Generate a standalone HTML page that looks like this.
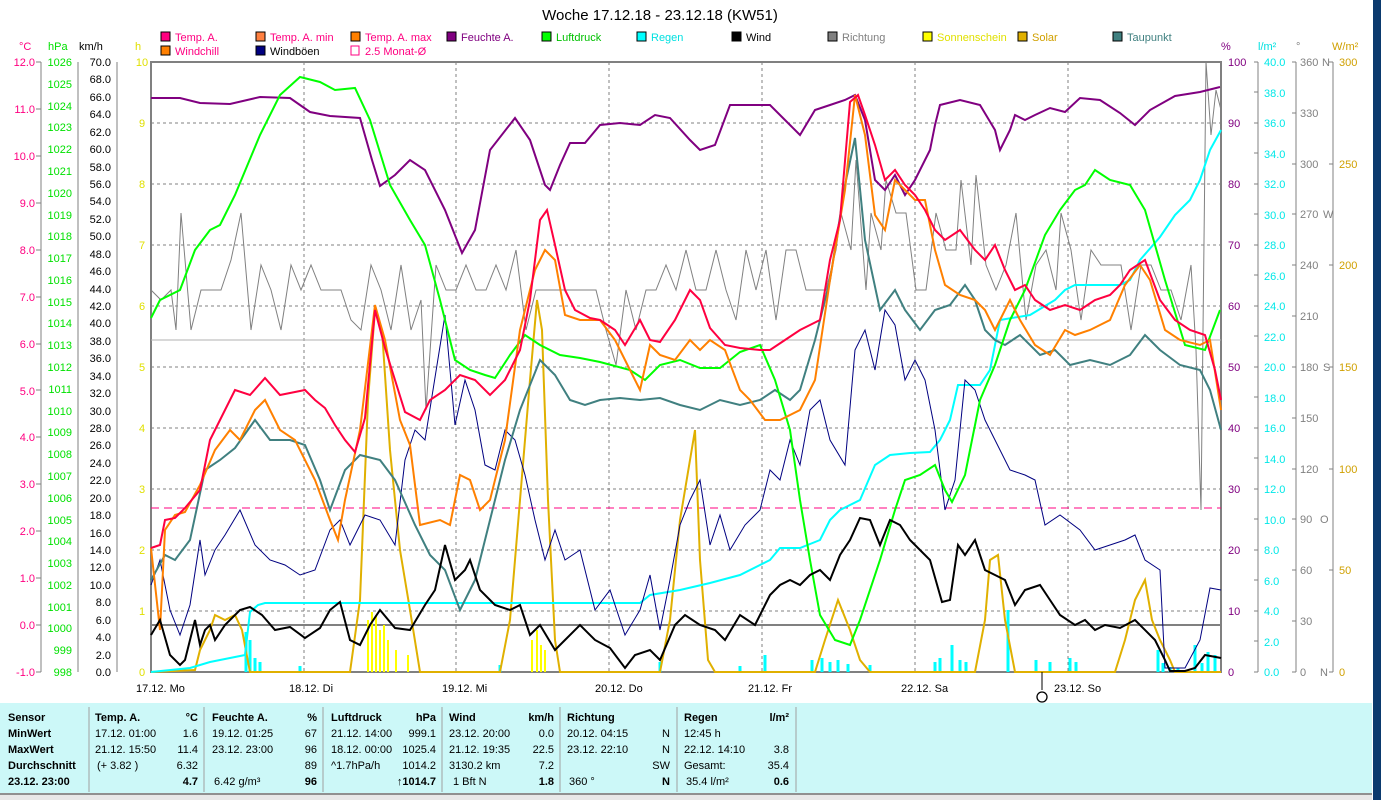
<!DOCTYPE html>
<html><head><meta charset="utf-8"><style>
html,body{margin:0;padding:0;width:1381px;height:800px;overflow:hidden;background:#fff;}
svg{display:block;font-family:"Liberation Sans",sans-serif;}
</style></head><body>
<svg width="1381" height="800" viewBox="0 0 1381 800" xmlns="http://www.w3.org/2000/svg">
<rect x="1373" y="0" width="8" height="800" fill="#0b3a6e"/>
<text x="660" y="20" font-size="15" text-anchor="middle" fill="#000">Woche 17.12.18 - 23.12.18 (KW51)</text>
<g font-size="11">
<rect x="161" y="32" width="9" height="9" fill="#ff0080" stroke="#000"/><text x="175" y="41" fill="#ff0080">Temp. A.</text>
<rect x="256" y="32" width="9" height="9" fill="#ff8040" stroke="#000"/><text x="270" y="41" fill="#ff0080">Temp. A. min</text>
<rect x="351" y="32" width="9" height="9" fill="#ff8000" stroke="#000"/><text x="365" y="41" fill="#ff0080">Temp. A. max</text>
<rect x="447" y="32" width="9" height="9" fill="#800080" stroke="#000"/><text x="461" y="41" fill="#800080">Feuchte A.</text>
<rect x="542" y="32" width="9" height="9" fill="#00ff00" stroke="#000"/><text x="556" y="41" fill="#00c000">Luftdruck</text>
<rect x="637" y="32" width="9" height="9" fill="#00ffff" stroke="#000"/><text x="651" y="41" fill="#00e0e0">Regen</text>
<rect x="732" y="32" width="9" height="9" fill="#000" stroke="#000"/><text x="746" y="41" fill="#000">Wind</text>
<rect x="828" y="32" width="9" height="9" fill="#808080" stroke="#000"/><text x="842" y="41" fill="#808080">Richtung</text>
<rect x="923" y="32" width="9" height="9" fill="#ffff00" stroke="#000"/><text x="937" y="41" fill="#e0e000">Sonnenschein</text>
<rect x="1018" y="32" width="9" height="9" fill="#e0b000" stroke="#000"/><text x="1032" y="41" fill="#d0a000">Solar</text>
<rect x="1113" y="32" width="9" height="9" fill="#408080" stroke="#000"/><text x="1127" y="41" fill="#408080">Taupunkt</text>
<rect x="161" y="46" width="9" height="9" fill="#ff8000" stroke="#000"/><text x="175" y="55" fill="#ff0080">Windchill</text>
<rect x="256" y="46" width="9" height="9" fill="#000080" stroke="#000"/><text x="270" y="55" fill="#000">Windböen</text>
<rect x="351" y="46" width="8" height="9" fill="#fff" stroke="#ff0080"/><text x="365" y="55" fill="#ff0080">2.5 Monat-Ø</text>
</g>
<g font-size="11">
<text x="19" y="50" fill="#ff0080">°C</text><text x="48" y="50" fill="#00e000">hPa</text><text x="79" y="50" fill="#000">km/h</text><text x="135" y="50" fill="#e0e000">h</text>
<text x="1221" y="50" fill="#800080">%</text><text x="1258" y="50" fill="#00e0e0">l/m²</text><text x="1296" y="50" fill="#808080">°</text><text x="1332" y="50" fill="#d0a000">W/m²</text>
</g>
<g stroke="#808080" stroke-width="1">
<line x1="41" y1="62" x2="41" y2="672"/><line x1="78" y1="62" x2="78" y2="672"/><line x1="117" y1="62" x2="117" y2="672"/>
<line x1="1258" y1="62" x2="1258" y2="672"/><line x1="1296" y1="62" x2="1296" y2="672"/><line x1="1333" y1="62" x2="1333" y2="672"/>
</g>
<g font-size="11" fill="#ff0080" text-anchor="end">
<text x="35" y="676">-1.0</text><text x="35" y="629">0.0</text><text x="35" y="582">1.0</text><text x="35" y="535">2.0</text><text x="35" y="488">3.0</text><text x="35" y="441">4.0</text><text x="35" y="395">5.0</text><text x="35" y="348">6.0</text><text x="35" y="301">7.0</text><text x="35" y="254">8.0</text><text x="35" y="207">9.0</text><text x="35" y="160">10.0</text><text x="35" y="113">11.0</text><text x="35" y="66">12.0</text>
</g>
<path d="M36 672h5M36 625h5M36 578h5M36 531h5M36 484h5M36 437h5M36 390h5M36 344h5M36 297h5M36 250h5M36 203h5M36 156h5M36 109h5M36 62h5" stroke="#808080"/>
<g font-size="11" fill="#00e000" text-anchor="end">
<text x="72" y="676">998</text><text x="72" y="654">999</text><text x="72" y="632">1000</text><text x="72" y="611">1001</text><text x="72" y="589">1002</text><text x="72" y="567">1003</text><text x="72" y="545">1004</text><text x="72" y="524">1005</text><text x="72" y="502">1006</text><text x="72" y="480">1007</text><text x="72" y="458">1008</text><text x="72" y="436">1009</text><text x="72" y="415">1010</text><text x="72" y="393">1011</text><text x="72" y="371">1012</text><text x="72" y="349">1013</text><text x="72" y="327">1014</text><text x="72" y="306">1015</text><text x="72" y="284">1016</text><text x="72" y="262">1017</text><text x="72" y="240">1018</text><text x="72" y="219">1019</text><text x="72" y="197">1020</text><text x="72" y="175">1021</text><text x="72" y="153">1022</text><text x="72" y="131">1023</text><text x="72" y="110">1024</text><text x="72" y="88">1025</text><text x="72" y="66">1026</text>
</g>
<g font-size="11" fill="#000" text-anchor="end">
<text x="111" y="676">0.0</text><text x="111" y="659">2.0</text><text x="111" y="641">4.0</text><text x="111" y="624">6.0</text><text x="111" y="606">8.0</text><text x="111" y="589">10.0</text><text x="111" y="571">12.0</text><text x="111" y="554">14.0</text><text x="111" y="537">16.0</text><text x="111" y="519">18.0</text><text x="111" y="502">20.0</text><text x="111" y="484">22.0</text><text x="111" y="467">24.0</text><text x="111" y="449">26.0</text><text x="111" y="432">28.0</text><text x="111" y="415">30.0</text><text x="111" y="397">32.0</text><text x="111" y="380">34.0</text><text x="111" y="362">36.0</text><text x="111" y="345">38.0</text><text x="111" y="327">40.0</text><text x="111" y="310">42.0</text><text x="111" y="293">44.0</text><text x="111" y="275">46.0</text><text x="111" y="258">48.0</text><text x="111" y="240">50.0</text><text x="111" y="223">52.0</text><text x="111" y="205">54.0</text><text x="111" y="188">56.0</text><text x="111" y="171">58.0</text><text x="111" y="153">60.0</text><text x="111" y="136">62.0</text><text x="111" y="118">64.0</text><text x="111" y="101">66.0</text><text x="111" y="83">68.0</text><text x="111" y="66">70.0</text>
</g>
<g font-size="11" fill="#e0e000" text-anchor="middle">
<text x="142" y="676">0</text><text x="142" y="615">1</text><text x="142" y="554">2</text><text x="142" y="493">3</text><text x="142" y="432">4</text><text x="142" y="371">5</text><text x="142" y="310">6</text><text x="142" y="249">7</text><text x="142" y="188">8</text><text x="142" y="127">9</text><text x="142" y="66">10</text>
</g>
<g font-size="11" fill="#800080">
<text x="1228" y="676">0</text><text x="1228" y="615">10</text><text x="1228" y="554">20</text><text x="1228" y="493">30</text><text x="1228" y="432">40</text><text x="1228" y="371">50</text><text x="1228" y="310">60</text><text x="1228" y="249">70</text><text x="1228" y="188">80</text><text x="1228" y="127">90</text><text x="1228" y="66">100</text>
</g>
<g font-size="11" fill="#00e8e8">
<text x="1264" y="676">0.0</text><text x="1264" y="646">2.0</text><text x="1264" y="615">4.0</text><text x="1264" y="585">6.0</text><text x="1264" y="554">8.0</text><text x="1264" y="524">10.0</text><text x="1264" y="493">12.0</text><text x="1264" y="463">14.0</text><text x="1264" y="432">16.0</text><text x="1264" y="402">18.0</text><text x="1264" y="371">20.0</text><text x="1264" y="341">22.0</text><text x="1264" y="310">24.0</text><text x="1264" y="280">26.0</text><text x="1264" y="249">28.0</text><text x="1264" y="219">30.0</text><text x="1264" y="188">32.0</text><text x="1264" y="158">34.0</text><text x="1264" y="127">36.0</text><text x="1264" y="97">38.0</text><text x="1264" y="66">40.0</text>
</g>
<path d="M1254 672h4M1254 641h4M1254 611h4M1254 580h4M1254 550h4M1254 519h4M1254 489h4M1254 458h4M1254 428h4M1254 397h4M1254 367h4M1254 336h4M1254 306h4M1254 275h4M1254 245h4M1254 214h4M1254 184h4M1254 153h4M1254 123h4M1254 92h4M1254 62h4 M1292 672h4M1292 621h4M1292 570h4M1292 519h4M1292 469h4M1292 418h4M1292 367h4M1292 316h4M1292 265h4M1292 214h4M1292 164h4M1292 113h4M1292 62h4 M1329 672h4M1329 570h4M1329 469h4M1329 367h4M1329 265h4M1329 164h4M1329 62h4" stroke="#808080"/>
<g font-size="11" fill="#808080">
<text x="1300" y="676">0</text><text x="1320" y="676">N</text><text x="1300" y="625">30</text><text x="1300" y="574">60</text><text x="1300" y="523">90</text><text x="1320" y="523">O</text><text x="1300" y="473">120</text><text x="1300" y="422">150</text><text x="1300" y="371">180</text><text x="1323" y="371">S</text><text x="1300" y="320">210</text><text x="1300" y="269">240</text><text x="1300" y="218">270</text><text x="1323" y="218">W</text><text x="1300" y="168">300</text><text x="1300" y="117">330</text><text x="1300" y="66">360</text><text x="1322" y="66">N</text>
</g>
<g font-size="11" fill="#d0a000">
<text x="1339" y="676">0</text><text x="1339" y="574">50</text><text x="1339" y="473">100</text><text x="1339" y="371">150</text><text x="1339" y="269">200</text><text x="1339" y="168">250</text><text x="1339" y="66">300</text>
</g>
<g stroke="#808080" stroke-dasharray="3,3" stroke-width="1">
<path d="M151 123H1221M151 184H1221M151 245H1221M151 306H1221M151 367H1221M151 428H1221M151 489H1221M151 550H1221M151 611H1221"/>
<path d="M304 62V672M456 62V672M609 62V672M762 62V672M915 62V672M1068 62V672"/>
</g>
<rect x="151" y="62" width="1070" height="610" fill="none" stroke="#808080" stroke-width="2"/>
<line x1="151" y1="625" x2="1221" y2="625" stroke="#808080" stroke-width="2"/>
<line x1="151" y1="340" x2="1221" y2="340" stroke="#b0b0b0" stroke-width="1"/>
<line x1="151" y1="508" x2="1221" y2="508" stroke="#ff0080" stroke-dasharray="8,5"/>
<path d="M368 672V620M372 672V612M376 672V615M380 672V630M384 672V625M388 672V640M396 672V650M408 672V655M532 672V640M537 672V630M541 672V645M545 672V650" stroke="#ffff00" stroke-width="2"/>
<path d="M246 672V632M250 672V640M255 672V658M260 672V662M300 672V666M500 672V665M660 672V662M740 672V666M765 672V655M812 672V660M822 672V658M830 672V662M838 672V660M848 672V664M870 672V665M935 672V662M940 672V658M952 672V645M960 672V660M966 672V662M1008 672V610M1036 672V660M1050 672V662M1070 672V658M1076 672V662M1158 672V650M1163 672V663M1170 672V667M1178 672V668M1195 672V645M1202 672V663M1208 672V652M1215 672V655" stroke="#00ffff" stroke-width="3"/>
<polyline fill="none" stroke="#808080" stroke-width="1" points="151,290 161,300 171,290 176,330 181,213 191,330 201,290 211,290 221,290 231,260 241,213 251,330 261,265 271,290 281,330 291,265 301,290 311,265 321,290 331,290 341,290 351,320 361,330 371,265 381,290 391,330 401,265 411,330 421,300 426,410 436,265 446,290 456,290 466,265 476,290 486,290 496,265 506,290 516,250 526,330 536,290 546,290 556,290 566,290 576,290 586,290 596,290 606,330 616,365 626,290 636,330 646,290 656,290 666,265 676,290 686,250 696,290 706,290 716,250 726,290 736,320 746,250 756,290 766,250 776,320 786,250 796,250 806,290 816,290 826,290 836,250 841,213 851,250 856,160 866,290 871,213 881,250 886,180 896,213 906,213 916,290 926,290 936,213 946,250 956,250 961,180 971,265 976,175 986,265 996,290 1006,265 1016,213 1026,320 1036,265 1046,250 1056,290 1061,213 1071,250 1081,320 1091,250 1101,265 1111,265 1121,265 1131,330 1141,265 1151,265 1161,290 1171,290 1181,320 1191,265 1196,350 1201,510 1206,62 1211,135 1216,90 1221,110"/>
<polyline fill="none" stroke="#e0b000" stroke-width="2" points="151,672 195,670 200,650 210,630 215,615 225,620 235,615 242,630 250,672 350,672 360,600 368,400 375,310 382,330 390,450 400,550 410,610 420,672 500,672 510,620 520,500 530,380 537,300 542,330 548,500 555,640 560,672 660,672 670,620 680,520 690,460 695,430 700,560 708,660 715,672 815,672 825,640 838,600 850,630 860,660 870,672 975,672 985,620 990,560 998,555 1005,620 1015,672 1115,672 1125,640 1135,600 1145,580 1152,620 1160,640 1170,660 1175,672 1221,672"/>
<polyline fill="none" stroke="#00ffff" stroke-width="2" points="151,672 190,668 210,662 230,658 245,655 250,612 258,605 265,603 640,603 650,595 680,590 710,583 740,575 760,565 770,560 780,548 800,548 820,540 830,520 840,510 860,500 875,465 890,455 910,453 930,452 940,440 950,420 958,385 980,385 990,370 1000,320 1030,315 1055,300 1065,290 1075,285 1120,285 1130,280 1140,260 1160,237 1175,215 1190,200 1200,180 1210,150 1221,130"/>
<polyline fill="none" stroke="#000080" stroke-width="1" points="151,585 160,560 170,610 180,635 190,605 200,540 205,575 215,550 225,535 240,510 255,545 270,560 285,565 300,575 315,570 330,530 340,520 350,545 365,515 380,520 395,545 405,460 415,430 425,440 445,315 455,425 465,380 475,410 485,465 495,470 505,430 515,440 525,475 535,520 545,560 555,530 565,560 580,550 595,610 610,590 625,635 640,610 650,575 660,630 670,580 680,525 690,500 700,480 710,545 720,515 730,550 745,525 760,510 770,470 780,480 790,440 800,465 810,410 820,400 830,440 845,465 855,350 865,330 875,370 885,310 895,325 905,380 915,360 925,380 935,430 945,510 955,480 965,380 975,390 985,420 995,440 1010,470 1025,475 1035,480 1045,525 1060,515 1080,530 1095,550 1110,545 1125,540 1135,535 1145,560 1160,570 1165,668 1185,668 1200,640 1210,588 1221,590"/>
<polyline fill="none" stroke="#408080" stroke-width="2" points="151,580 165,555 175,560 190,540 205,470 220,460 235,448 255,420 270,440 290,440 305,445 320,480 330,510 345,470 360,455 380,460 395,480 415,525 430,555 445,570 460,610 475,580 490,520 505,460 520,410 540,360 555,375 570,400 585,405 600,400 620,398 640,400 660,398 680,405 700,410 720,400 740,405 760,400 775,390 790,400 800,390 815,340 830,280 845,185 855,138 865,240 880,310 895,290 905,310 920,330 935,310 950,305 965,285 975,300 985,330 995,340 1005,345 1020,335 1040,355 1055,350 1070,365 1090,360 1110,365 1130,355 1145,335 1160,350 1180,365 1200,370 1210,390 1221,430"/>
<polyline fill="none" stroke="#800080" stroke-width="2" points="151,98 180,98 200,103 230,104 260,97 290,98 310,112 330,116 360,118 372,160 380,186 395,175 410,160 425,170 445,210 462,253 475,230 490,150 515,118 530,140 545,185 550,190 560,165 570,143 585,143 600,125 620,123 640,125 655,115 670,118 690,140 700,150 715,145 730,105 770,105 790,125 800,135 815,110 830,105 845,100 855,95 865,120 875,180 885,190 895,175 905,195 915,180 930,150 935,125 940,105 960,100 980,105 995,130 1000,150 1010,130 1015,115 1025,120 1035,115 1050,108 1065,112 1080,98 1100,100 1120,113 1135,125 1150,110 1175,96 1200,92 1220,87"/>
<polyline fill="none" stroke="#00ff00" stroke-width="2" points="151,318 160,300 180,290 195,250 210,230 220,225 235,195 260,135 280,95 300,77 320,82 335,90 355,88 370,120 390,185 410,220 425,245 440,300 455,360 470,370 485,375 495,378 510,355 525,335 540,345 560,355 580,358 600,362 630,370 645,380 660,365 680,360 700,368 720,368 740,352 760,345 775,380 790,430 800,500 810,560 820,615 835,640 850,645 860,620 880,560 895,510 905,480 920,475 935,465 945,490 952,502 965,475 980,400 995,365 1010,320 1025,290 1045,235 1060,210 1075,190 1085,185 1095,170 1110,180 1130,185 1145,210 1165,280 1185,345 1205,350 1220,310"/>
<polyline fill="none" stroke="#ff8000" stroke-width="2" points="151,548 160,630 165,530 175,515 185,512 200,485 215,450 230,430 240,440 255,410 265,400 280,430 295,440 315,480 330,520 338,540 345,500 360,430 375,305 385,340 400,420 410,445 420,525 440,520 450,525 460,475 470,480 480,510 490,500 505,440 520,330 535,270 545,250 555,260 565,315 580,320 600,320 615,340 625,360 640,390 650,345 660,355 675,360 690,340 700,350 710,340 725,350 740,390 750,400 765,420 780,420 800,410 815,380 830,280 845,190 855,95 865,135 875,215 885,230 895,180 905,190 915,200 925,200 935,250 945,285 960,295 975,300 985,310 995,330 1010,300 1020,320 1035,345 1050,355 1065,330 1075,335 1090,330 1110,320 1125,285 1140,265 1150,280 1165,330 1180,340 1200,345 1210,340 1221,410"/>
<polyline fill="none" stroke="#ff0040" stroke-width="2" points="151,548 160,545 165,520 175,518 185,508 200,490 210,440 220,420 235,390 250,395 265,378 280,395 295,392 305,390 315,400 325,408 335,425 345,440 355,452 365,418 375,310 385,348 395,380 405,412 420,420 430,400 445,390 460,375 475,380 490,395 505,380 520,350 530,300 540,220 547,210 555,245 565,290 575,310 590,318 600,320 615,330 625,345 640,320 650,340 660,342 675,320 690,290 700,300 710,328 725,345 740,348 760,350 770,350 785,340 800,330 820,320 830,260 840,220 850,102 858,95 865,115 875,145 885,180 895,170 905,185 915,195 925,210 935,230 945,240 960,230 975,250 985,260 995,245 1005,270 1015,290 1025,285 1035,300 1050,310 1065,305 1080,310 1095,300 1110,295 1120,285 1130,270 1145,260 1160,300 1175,320 1190,330 1205,335 1215,370 1221,400"/>
<polyline fill="none" stroke="#000" stroke-width="2" points="151,635 160,620 170,655 180,665 185,660 190,640 195,620 200,645 205,630 210,625 215,640 225,625 240,610 250,607 262,615 275,630 290,627 305,638 320,628 330,610 340,602 350,640 360,645 370,625 380,610 395,628 410,630 425,605 435,590 445,545 455,580 465,570 470,560 480,590 495,605 510,610 520,605 530,635 540,625 555,650 565,640 580,625 595,640 610,648 625,668 635,655 650,650 660,660 675,625 685,615 700,625 715,630 725,640 740,615 755,625 770,595 780,585 790,580 800,585 810,575 820,570 830,580 840,555 850,540 860,518 870,520 880,545 890,520 900,525 910,540 920,550 930,560 942,602 950,600 958,545 965,555 975,540 985,570 995,575 1005,580 1015,605 1025,590 1040,585 1050,600 1060,615 1075,625 1085,620 1095,630 1105,625 1120,628 1135,620 1140,625 1155,640 1165,660 1170,671 1185,671 1195,668 1205,655 1221,658"/>
<g font-size="11" fill="#000">
<text x="136" y="692">17.12.  Mo</text><text x="289" y="692">18.12.  Di</text><text x="442" y="692">19.12.  Mi</text><text x="595" y="692">20.12.  Do</text><text x="748" y="692">21.12.  Fr</text><text x="901" y="692">22.12.  Sa</text><text x="1054" y="692">23.12.  So</text>
</g>
<line x1="1042" y1="672" x2="1042" y2="690" stroke="#000"/>
<circle cx="1042" cy="697" r="5" fill="none" stroke="#000" stroke-width="1.3"/>
<rect x="0" y="703" width="1372" height="90" fill="#ccf8f8"/>
<rect x="0" y="793" width="1372" height="7" fill="#e8e8e8"/>
<line x1="0" y1="794" x2="1372" y2="794" stroke="#909090" stroke-width="2"/>
<g stroke="#a0a0a0" stroke-width="1">
<path d="M89 707V792M204 707V792M323 707V792M442 707V792M560 707V792M677 707V792M796 707V792"/>
</g>
<g font-size="11" fill="#000">
<g font-weight="bold"><text x="8" y="721">Sensor</text><text x="8" y="737">MinWert</text><text x="8" y="753">MaxWert</text><text x="8" y="769">Durchschnitt</text><text x="8" y="785">23.12. 23:00</text>
<text x="95" y="721">Temp. A.</text><text x="212" y="721">Feuchte A.</text><text x="331" y="721">Luftdruck</text><text x="449" y="721">Wind</text><text x="567" y="721">Richtung</text><text x="684" y="721">Regen</text></g>
<g text-anchor="end" font-weight="bold"><text x="198" y="721">°C</text><text x="317" y="721">%</text><text x="436" y="721">hPa</text><text x="554" y="721">km/h</text><text x="789" y="721">l/m²</text>
<text x="198" y="785">4.7</text><text x="317" y="785">96</text><text x="436" y="785">↑1014.7</text><text x="554" y="785">1.8</text><text x="670" y="785">N</text><text x="789" y="785">0.6</text></g>
<text x="95" y="737">17.12.  01:00</text><text x="95" y="753">21.12.  15:50</text><text x="97" y="769">(+ 3.82 )</text>
<text x="212" y="737">19.12.  01:25</text><text x="212" y="753">23.12.  23:00</text><text x="214" y="785">6.42 g/m³</text>
<text x="331" y="737">21.12.  14:00</text><text x="331" y="753">18.12.  00:00</text><text x="331" y="769">^1.7hPa/h</text>
<text x="449" y="737">23.12.  20:00</text><text x="449" y="753">21.12.  19:35</text><text x="449" y="769">3130.2 km</text><text x="453" y="785">1 Bft N</text>
<text x="567" y="737">20.12.  04:15</text><text x="567" y="753">23.12.  22:10</text><text x="569" y="785">360 °</text>
<text x="684" y="737">12:45 h</text><text x="684" y="753">22.12.  14:10</text><text x="684" y="769">Gesamt:</text><text x="686" y="785">35.4 l/m²</text>
<g text-anchor="end"><text x="198" y="737">1.6</text><text x="198" y="753">11.4</text><text x="198" y="769">6.32</text>
<text x="317" y="737">67</text><text x="317" y="753">96</text><text x="317" y="769">89</text>
<text x="436" y="737">999.1</text><text x="436" y="753">1025.4</text><text x="436" y="769">1014.2</text>
<text x="554" y="737">0.0</text><text x="554" y="753">22.5</text><text x="554" y="769">7.2</text>
<text x="670" y="737">N</text><text x="670" y="753">N</text><text x="670" y="769">SW</text>
<text x="789" y="753">3.8</text><text x="789" y="769">35.4</text></g>
</g>
</svg>
</body></html>
